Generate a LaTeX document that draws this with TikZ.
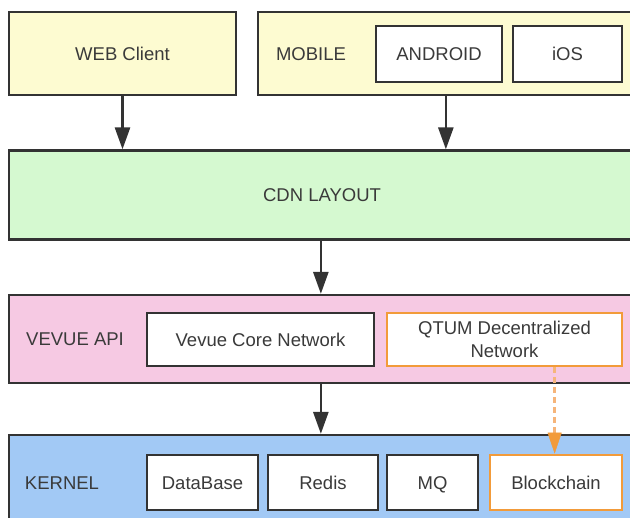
\documentclass[tikz,border=0pt]{standalone}
\usepackage{fontspec}
\setmainfont{Liberation Sans}
\usetikzlibrary{arrows.meta,calc}
\definecolor{cyel}{HTML}{FDFBD1}
\definecolor{cgrn}{HTML}{D5F9D0}
\definecolor{cpnk}{HTML}{F6C9E3}
\definecolor{cblu}{HTML}{A2C9F5}
\definecolor{corg}{HTML}{F29B3A}
\definecolor{cdash}{HTML}{F6B57A}
\definecolor{cln}{HTML}{333333}
\definecolor{ctx}{HTML}{3A3A3A}
\tikzset{
  txt/.style={text=ctx,font=\fontsize{18.5}{22}\selectfont},
  strut/.style={text height=13.2pt,text depth=0pt},
  lay/.style={txt,strut,draw=cln,line width=2.3pt,rectangle,inner sep=0pt},
  inbase/.style={txt,draw=cln,line width=2.7pt,fill=white,rectangle,inner sep=0pt,align=center},
  inbox/.style={inbase,strut},
  obox/.style={inbox,draw=corg},
  obox2/.style={inbase,draw=corg},
  lbl/.style={txt,strut,inner sep=0pt},
  arr/.style={draw=cln,line width=2.7pt,-{Triangle[length=22pt,width=15pt]}},
  darr/.style={draw=cdash,line width=2.6pt,dash pattern=on 6pt off 4pt,-{Triangle[length=21pt,width=14pt,color=corg,fill=corg,line width=0.5pt]}},
}
\begin{document}
\begin{tikzpicture}[x=1pt,y=-1pt]
\useasboundingbox (0,0) rectangle (630,518);
\clip (0,0) rectangle (630,518);
% layers
\node[lay,fill=cyel,minimum width=227pt,minimum height=83pt] (web) at (122.5,53.5) {WEB Client};
\node[lay,fill=cyel,minimum width=392pt,minimum height=83pt] (mobile) at (454,53.5) {};
\node[lbl] (mobilelbl) at (311,53.5) {MOBILE};
\node[inbox,minimum width=126pt,minimum height=56pt] (android) at (439,54) {ANDROID};
\node[inbox,minimum width=109pt,minimum height=56pt] (ios) at (567.5,54) {iOS};
\node[lay,fill=cgrn,minimum width=641pt,minimum height=89pt] (cdn) at (329.5,195) {};
\node[lbl] (cdnlbl) at (322,195) {CDN LAYOUT};
\node[lay,fill=cpnk,minimum width=641pt,minimum height=88pt] (api) at (329.5,339) {};
\node[lbl] (apilbl) at (75,339) {VEVUE API};
\node[inbox,minimum width=227pt,minimum height=53pt] (core) at (260.5,339.5) {Vevue Core Network};
\node[obox2,minimum width=235pt,minimum height=53pt] (qtum) at (504.5,339.5) {QTUM Decentralized\\[1pt]Network};
\node[lay,fill=cblu,minimum width=641pt,minimum height=100pt] (kernel) at (329.5,485) {};
\node[lbl] (kernellbl) at (62,482.5) {KERNEL};
\node[inbox,minimum width=111pt,minimum height=55pt] (db) at (202.5,482.5) {DataBase};
\node[inbox,minimum width=110pt,minimum height=55pt] (redis) at (323,482.5) {Redis};
\node[inbox,minimum width=91pt,minimum height=55pt] (mq) at (432.5,482.5) {MQ};
\node[obox,minimum width=132pt,minimum height=55pt] (bc) at (556,482.5) {Blockchain};
% connectors
\draw[arr] (web.south) -- (web.south |- cdn.north);
\coordinate (m1) at ([xshift=189pt]mobile.south west);
\draw[arr] (m1) -- (m1 |- cdn.north);
\coordinate (c1) at ([xshift=313pt]cdn.south west);
\draw[arr] (c1) -- (c1 |- api.north);
\coordinate (a1) at ([xshift=313pt]api.south west);
\draw[arr] (a1) -- (a1 |- kernel.north);
\coordinate (q1) at ([xshift=169pt]qtum.south west);
\draw[darr] (q1) -- (q1 |- bc.north);
\end{tikzpicture}
\end{document}
